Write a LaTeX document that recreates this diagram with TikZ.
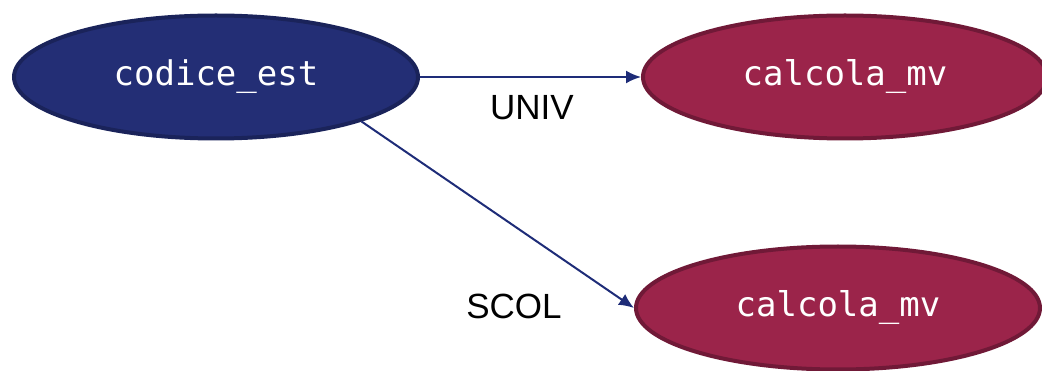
\documentclass[tikz,border=0pt]{standalone}
\usepackage{fontspec}
\setmainfont{Liberation Sans}
\newfontfamily\codefont{DejaVu Sans Mono}
\usetikzlibrary{shapes.geometric,arrows.meta}
\definecolor{navyfill}{RGB}{35,46,117}
\definecolor{navyline}{RGB}{26,35,90}
\definecolor{wineFill}{RGB}{155,36,74}
\definecolor{wineLine}{RGB}{112,25,55}
\definecolor{edgeblue}{RGB}{30,44,120}
\tikzset{
  modnode/.style={ellipse,line width=4pt,inner sep=0pt,minimum width=404pt,minimum height=123pt,
    text=white,font=\codefont\fontsize{34}{34}\selectfont},
  srcnode/.style={modnode,draw=navyline,fill=navyfill},
  dstnode/.style={modnode,draw=wineLine,fill=wineFill},
  lbl/.style={font=\fontsize{35}{35}\selectfont,text=black},
  flow/.style={->,draw=edgeblue,line width=2pt}
}
\begin{document}
\begin{tikzpicture}[x=1pt,y=-1pt,>={Latex[length=15pt,width=13pt]}]
\useasboundingbox (0,0) rectangle (1042,371);
\clip (0,0) rectangle (1042,371);
\coordinate (C) at (216,77);
\coordinate (M1) at (845,77);
\coordinate (M2) at (838,308);
\coordinate (U) at (532,108);
\coordinate (S) at (514,306);
\node[srcnode] (codice) at (C) {codice\_est};
\node[dstnode] (univ) at (M1) {calcola\_mv};
\node[dstnode] (scol) at (M2) {calcola\_mv};
\draw[flow] (codice.east) -- (univ.west);
\draw[flow] (codice.-17) -- (scol.west);
\node[lbl] (ulab) at (U) {UNIV};
\node[lbl] (slab) at (S) {SCOL};
\end{tikzpicture}
\end{document}
